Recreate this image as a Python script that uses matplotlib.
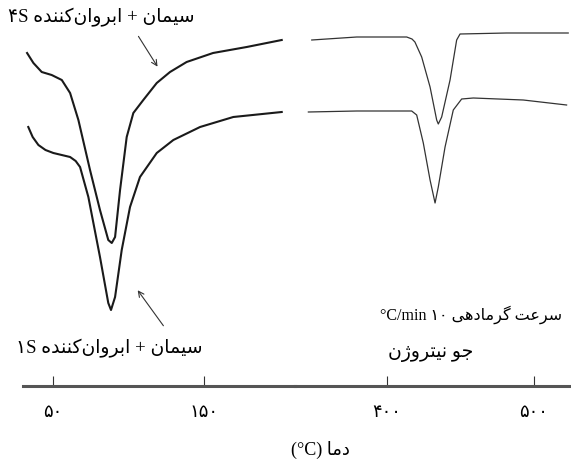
import matplotlib
matplotlib.use("Agg")
import matplotlib.pyplot as plt

# DSC curves, left part (low temperature)
t_low_4s = [32.8, 37.0, 42.5, 49.1, 55.8, 61.3, 66.8, 74.5, 81.1, 86.6, 88.9, 91.1,
            94.4, 98.8, 103.2, 109.8, 118.7, 127.5, 138.5, 156.0, 178.3, 201.5]
h_low_4s = [333, 323, 314, 311, 306, 293, 266, 216, 176, 146, 143, 149,
            196, 249, 273, 286, 303, 314, 324, 333, 339, 346]
t_low_1s = [33.6, 36.5, 40.3, 45.0, 50.2, 61.3, 65.0, 67.9, 73.4, 81.1, 86.6, 88.4, 91.1,
            95.5, 101.0, 107.6, 118.7, 129.7, 147.4, 169.4, 201.5]
h_low_1s = [259, 249, 241, 236, 233, 229, 225, 219, 189, 129, 83, 76, 89,
            136, 179, 209, 233, 246, 259, 269, 274]

# DSC curves, right part (high temperature)
t_high_4s = [348.8, 379.4, 413.4, 417.0, 419.0, 423.6, 429.3, 433.8, 434.9, 437.2,
             442.9, 447.4, 449.7, 481.4, 523.3]
h_high_4s = [346, 349, 349, 347, 344, 329, 299, 266, 262, 269,
             306, 346, 352, 353, 353]
t_high_1s = [346.5, 379.4, 416.8, 420.2, 424.7, 429.3, 432.7, 434.9, 439.5,
             445.1, 450.8, 458.7, 492.7, 522.2]
h_high_1s = [274, 275, 275, 271, 243, 206, 183, 199, 239,
             276, 287, 288, 286, 281]

ticks_low = [50, 150]
ticks_high = [400, 500]
tick_text_low = ["۵۰", "۱۵۰"]
tick_text_high = ["۴۰۰", "۵۰۰"]

# arabic presentation forms: isolated, final, initial, medial
FORMS = {
    "ا": ("\uFE8D", "\uFE8E", None, None),
    "ب": ("\uFE8F", "\uFE90", "\uFE91", "\uFE92"),
    "ت": ("\uFE95", "\uFE96", "\uFE97", "\uFE98"),
    "ج": ("\uFE9D", "\uFE9E", "\uFE9F", "\uFEA0"),
    "د": ("\uFEA9", "\uFEAA", None, None),
    "ر": ("\uFEAD", "\uFEAE", None, None),
    "ز": ("\uFEAF", "\uFEB0", None, None),
    "ژ": ("\uFB8A", "\uFB8B", None, None),
    "س": ("\uFEB1", "\uFEB2", "\uFEB3", "\uFEB4"),
    "ع": ("\uFEC9", "\uFECA", "\uFECB", "\uFECC"),
    "م": ("\uFEE1", "\uFEE2", "\uFEE3", "\uFEE4"),
    "ن": ("\uFEE5", "\uFEE6", "\uFEE7", "\uFEE8"),
    "ه": ("\uFEE9", "\uFEEA", "\uFEEB", "\uFEEC"),
    "و": ("\uFEED", "\uFEEE", None, None),
    "ک": ("\uFB8E", "\uFB8F", "\uFB90", "\uFB91"),
    "گ": ("\uFB92", "\uFB93", "\uFB94", "\uFB95"),
    "ی": ("\uFBFC", "\uFBFD", "\uFBFE", "\uFBFF"),
}


def rtl(s):
    # shape letters and put them in visual (left to right) order
    out = []
    for i, c in enumerate(s):
        if c == "\u200c":
            continue
        if c not in FORMS:
            out.append(c)
            continue
        prev = s[i - 1] if i > 0 else ""
        nxt = s[i + 1] if i + 1 < len(s) else ""
        jp = prev in FORMS and FORMS[prev][2] is not None
        jn = nxt in FORMS and FORMS[c][2] is not None
        iso, fin, ini, med = FORMS[c]
        out.append(med if jp and jn else fin if jp else ini if jn else iso)
    return "".join(reversed(out))


label_4s = "۴S " + rtl("سیمان + ابروان‌کننده")
label_1s = "۱S " + rtl("سیمان + ابروان‌کننده")
rate_txt = "°C/min ۱۰ " + rtl("سرعت گرمادهی")
gas_txt = rtl("جو نیتروژن")
xlabel_txt = "(°C) " + rtl("دما")

plt.rcParams["font.family"] = ["Liberation Serif", "DejaVu Sans"]

W, H = 571, 466
fig = plt.figure(figsize=(W / 100, H / 100), dpi=100)
y0 = (H - 386) / H
ax1 = fig.add_axes([23 / W, y0, (295 - 23) / W, 386 / H])
ax2 = fig.add_axes([295 / W, y0, (W - 295) / W, 386 / H])

ax1.plot(t_low_4s, h_low_4s, color="#1a1a1a", lw=1.5)
ax1.plot(t_low_1s, h_low_1s, color="#1a1a1a", lw=1.5)
ax2.plot(t_high_4s, h_high_4s, color="#333333", lw=0.9)
ax2.plot(t_high_1s, h_high_1s, color="#333333", lw=0.9)

ax1.set_xlim(30.1, 210.3)
ax2.set_xlim(337.4, 525.2)

for ax, tk, tl in [(ax1, ticks_low, tick_text_low), (ax2, ticks_high, tick_text_high)]:
    ax.set_ylim(0, 386)
    for sp in ["top", "left", "right"]:
        ax.spines[sp].set_visible(False)
    ax.spines["bottom"].set_color("#555555")
    ax.spines["bottom"].set_linewidth(2.2)
    ax.set_yticks([])
    ax.set_xticks(tk)
    ax.set_xticklabels(tl, fontsize=13)
    ax.tick_params(axis="x", direction="in", length=7, width=0.8,
                   color="#333333", pad=13)
    ax.patch.set_alpha(0)

ax1.annotate("", xy=(120.2, 317), xytext=(105.6, 352),
             arrowprops=dict(arrowstyle="->", color="#333333", lw=0.8))
ax1.annotate("", xy=(105.0, 98), xytext=(124.2, 58),
             arrowprops=dict(arrowstyle="->", color="#333333", lw=0.8))

fig.text(8 / W, 1 - 17 / H, label_4s, fontsize=13.5, ha="left", va="center")
fig.text(202 / W, 1 - 348 / H, label_1s, fontsize=13.5, ha="right", va="center")
fig.text(562 / W, 1 - 315 / H, rate_txt, fontsize=11.5, ha="right", va="center")
fig.text(388 / W, 1 - 353 / H, gas_txt, fontsize=13.5, ha="left", va="center")
fig.text(320 / W, 1 - 450 / H, xlabel_txt, fontsize=13, ha="center", va="center")

fig.savefig("out.png", dpi=100)
